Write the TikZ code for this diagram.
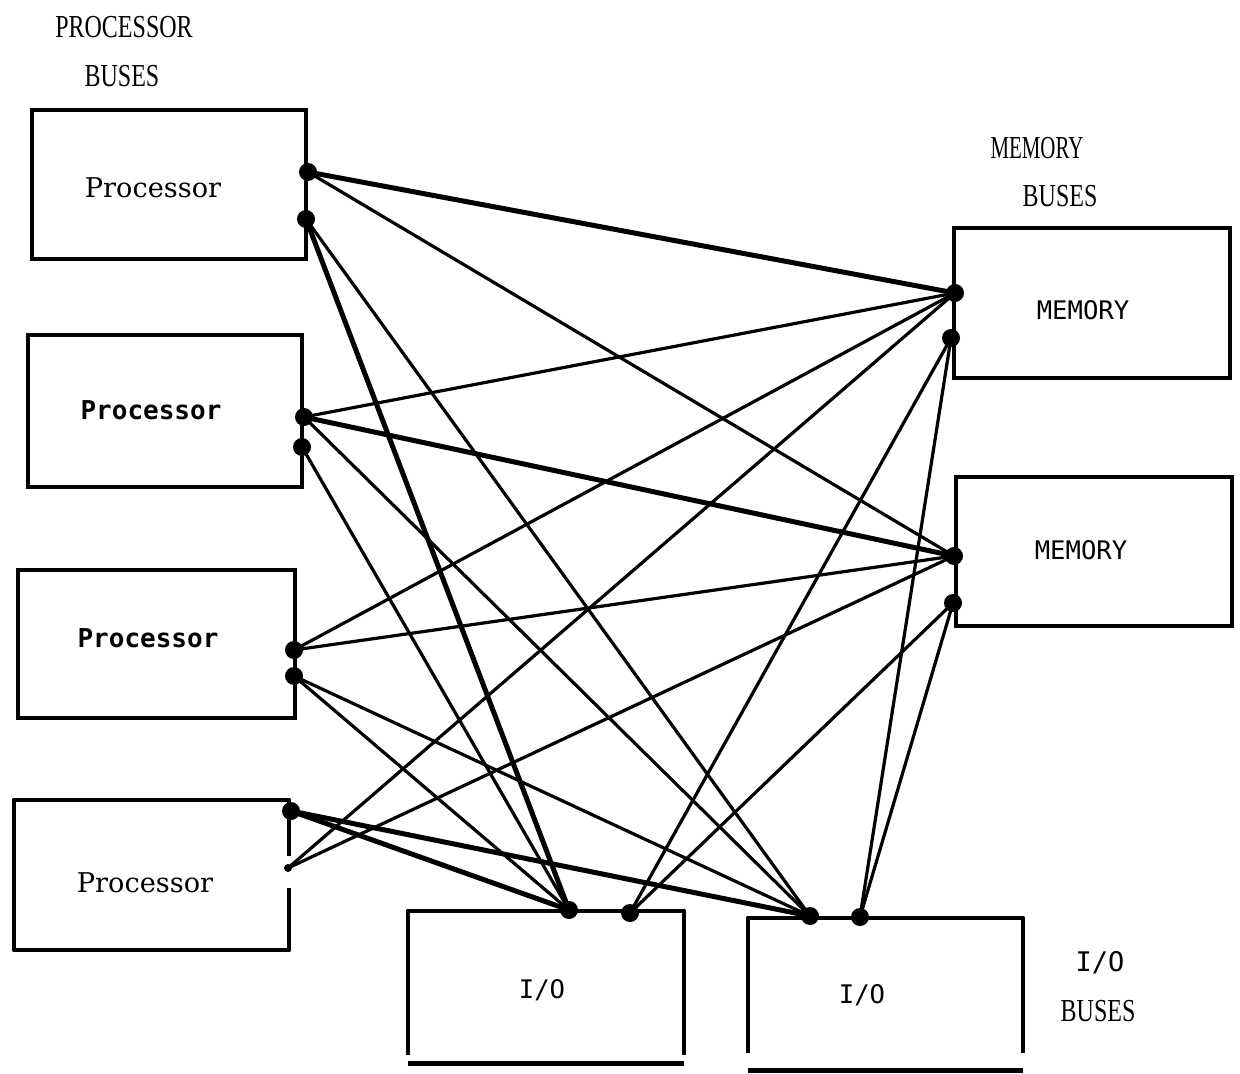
\documentclass[tikz,border=0pt]{standalone}
\usepackage{fontspec}
\setmainfont{Liberation Serif}
\newfontfamily\condfont[FakeStretch=0.75]{Liberation Serif}
\newfontfamily\slabfont{DejaVu Serif}
\newfontfamily\typefont{DejaVu Sans Mono}
\newdimen\pxu \pxu=0.5pt
\begin{document}
\begin{tikzpicture}[x=0.5pt,y=-0.5pt,
  box/.style={draw=black, line width=2pt, rectangle, inner sep=0pt},
  openbox/.style={draw=none, rectangle, inner sep=0pt},
  edge/.style={line width=2pt, line join=round},
  bar/.style={line width=2.6pt},
  dot/.style={circle, fill=black, inner sep=0pt, minimum size=9pt},
  smalldot/.style={circle, fill=black, inner sep=0pt, minimum size=4pt},
  wire/.style={line width=1.6pt},
  heavy/.style={line width=2.5pt},
  buslabel/.style={inner sep=0pt, font=\fontsize{16}{18}\selectfont\condfont},
  serifname/.style={inner sep=0pt, font=\fontsize{13.6}{15}\selectfont\slabfont},
  boldname/.style={inner sep=0pt, font=\fontsize{13}{15}\selectfont\typefont\bfseries},
  mononame/.style={inner sep=0pt, font=\fontsize{12.8}{15}\selectfont\typefont}]
\useasboundingbox (0,0) rectangle (1240,1074);

% bus captions
\node[buslabel] (plab1) at (124,27) {PROCESSOR};
\node[buslabel] (plab2) at (122,76) {BUSES};
\node[buslabel] (mlab1) at (1037,148) {\scalebox{0.87}[1]{MEMORY}};
\node[buslabel] (mlab2) at (1060,196) {BUSES};
\node[mononame, font=\fontsize{13.5}{15}\selectfont\typefont] (iolab1) at (1100,963) {I/O};
\node[buslabel] (iolab2) at (1098,1011) {BUSES};

% processors
\node[box, minimum width=274\pxu, minimum height=149\pxu] (p1) at (169,184.5) {};
\node[box, minimum width=274\pxu, minimum height=152\pxu] (p2) at (165,411) {};
\node[box, minimum width=277\pxu, minimum height=148\pxu] (p3) at (156.5,644) {};
\node[openbox, minimum width=275\pxu, minimum height=150\pxu] (p4) at (151.5,875) {};
\draw[edge] ([yshift=-56\pxu]p4.north east) -- (p4.north east) -- (p4.north west)
  -- (p4.south west) -- (p4.south east) -- ([yshift=62\pxu]p4.south east);

\node[serifname] (p1t) at (153,188) {Processor};
\node[boldname] (p2t) at (151,410) {Processor};
\node[boldname] (p3t) at (148,638) {Processor};
\node[serifname] (p4t) at (145,883) {Processor};

% memories
\node[box, minimum width=276\pxu, minimum height=150\pxu] (m1) at (1092,303) {};
\node[box, minimum width=276\pxu, minimum height=149\pxu] (m2) at (1094,551.5) {};
\node[mononame] (m1t) at (1083,310) {MEMORY};
\node[mononame] (m2t) at (1081,550) {MEMORY};

% i/o units: open at the bottom, with a bar underneath
\node[openbox, minimum width=276\pxu, minimum height=144\pxu] (io1) at (546,983) {};
\node[openbox, minimum width=275\pxu, minimum height=135\pxu] (io2) at (885.5,985.5) {};
\draw[edge] (io1.south west) -- (io1.north west) -- (io1.north east) -- (io1.south east);
\draw[edge] (io2.south west) -- (io2.north west) -- (io2.north east) -- (io2.south east);
\draw[bar] ([yshift=-8\pxu]io1.south west) -- ([yshift=-8\pxu]io1.south east);
\draw[bar] ([yshift=-17\pxu]io2.south west) -- ([yshift=-17\pxu]io2.south east);
\node[mononame] (io1t) at (542,990) {I/O};
\node[mononame] (io2t) at (862,995) {I/O};

% bus taps
\node[dot] (p1a) at (308,172) {};
\node[dot] (p1b) at (306,219) {};
\node[dot] (p2a) at (304,417) {};
\node[dot] (p2b) at (302,447) {};
\node[dot] (p3a) at (294,650) {};
\node[dot] (p3b) at (294,676) {};
\node[dot] (p4a) at (291,811) {};
\node[smalldot] (p4b) at (288,868) {};
\node[dot] (m1a) at (955,293) {};
\node[dot] (m1b) at (951,338) {};
\node[dot] (m2a) at (954,556) {};
\node[dot] (m2b) at (953,603) {};
\node[dot] (io1a) at (569,910) {};
\node[dot] (io1b) at (630,913) {};
\node[dot] (io2a) at (810,916) {};
\node[dot] (io2b) at (860,917) {};

% processor buses to memory
\draw[heavy] (p1a.center) -- (m1a.center);
\draw[wire]  (p1a.center) -- (m2a.center);
\draw[wire]  (p2a.center) -- (m1a.center);
\draw[heavy] (p2a.center) -- (m2a.center);
\draw[wire]  (p3a.center) -- (m1a.center);
\draw[wire]  (p3a.center) -- (m2a.center);
\draw[wire]  (p4b.center) -- (m1a.center);
\draw[wire]  (p4b.center) -- (m2a.center);

% processor buses to i/o
\draw[heavy] (p1b.center) -- (io1a.center);
\draw[wire]  (p1b.center) -- (io2a.center);
\draw[wire]  (p2a.center) -- (io2a.center);
\draw[wire]  (p2b.center) -- (io1a.center);
\draw[wire]  (p3b.center) -- (io1a.center);
\draw[wire]  (p3b.center) -- (io2a.center);
\draw[heavy] (p4a.center) -- (io1a.center);
\draw[heavy] (p4a.center) -- (io2a.center);

% memory buses to i/o
\draw[wire]  (m1b.center) -- (io1b.center);
\draw[wire]  (m1b.center) -- (io2b.center);
\draw[wire]  (m2b.center) -- (io1b.center);
\draw[wire]  (m2b.center) -- (io2b.center);
\end{tikzpicture}
\end{document}
